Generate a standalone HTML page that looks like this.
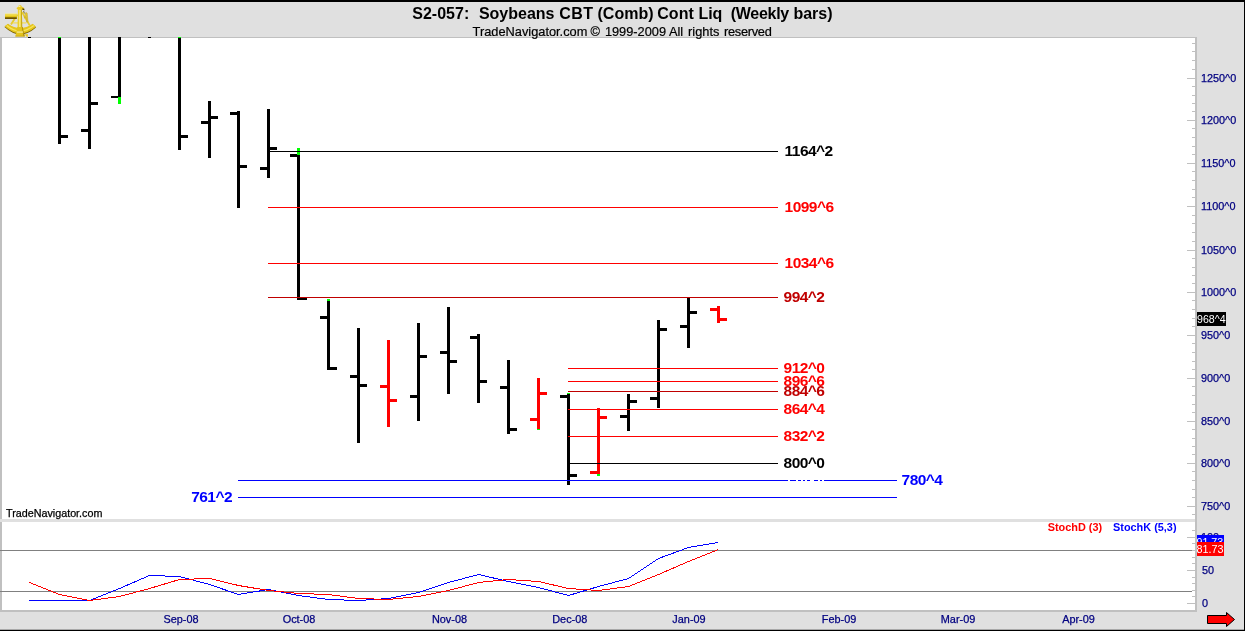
<!DOCTYPE html>
<html><head><meta charset="utf-8"><title>S2-057: Soybeans CBT (Comb) Cont Liq (Weekly bars)</title>
<style>
html,body{margin:0;padding:0;background:#e0e0e0;overflow:hidden}
body{width:1245px;height:631px;position:relative}
svg{position:absolute;left:0;top:0;display:block}
text{font-family:"Liberation Sans",Arial,Helvetica,sans-serif}
.lab{font-weight:bold;font-size:15.5px;letter-spacing:-0.55px}
.thin{stroke:#fff;stroke-width:0.65px}
.ax{font-size:10.85px;fill:#000080;stroke:#000080;stroke-width:0.25px}
.mon{font-size:10.9px;fill:#000080;stroke:#000080;stroke-width:0.25px}
.title{font-weight:bold;font-size:16px;fill:#000}
.sub{font-size:12.8px;fill:#000;stroke:#000;stroke-width:0.2px}
.leg{font-weight:bold;font-size:10.9px}
</style></head><body>
<svg width="1245" height="631" viewBox="0 0 1245 631" shape-rendering="crispEdges">
<rect x="0" y="0" width="1245" height="631" fill="#e0e0e0"/>
<!-- chart panes -->
<rect x="0" y="37" width="1197" height="575" fill="#c0c0c0"/>
<rect x="2" y="38" width="1193" height="481" fill="#fff"/>
<rect x="0" y="519" width="1195" height="3" fill="#e0e0e0"/>
<rect x="2" y="522" width="1193" height="88" fill="#fff"/>
<g id="bars"><rect x="28" y="37" width="3" height="1" fill="#000"/><rect x="148" y="37" width="3" height="1" fill="#000"/><rect x="58" y="37" width="3" height="107" fill="#000"/><rect x="61" y="135" width="7" height="3" fill="#000"/><rect x="58" y="37" width="3" height="1" fill="#0f0"/><rect x="88" y="37" width="3" height="112" fill="#000"/><rect x="81" y="129" width="7" height="3" fill="#000"/><rect x="91" y="102" width="7" height="3" fill="#000"/><rect x="118" y="37" width="3" height="67" fill="#000"/><rect x="111" y="96" width="7" height="2" fill="#000"/><rect x="118" y="97" width="3" height="7" fill="#0f0"/><rect x="178" y="37" width="3" height="113" fill="#000"/><rect x="181" y="135" width="7" height="3" fill="#000"/><rect x="178" y="37" width="3" height="1" fill="#0f0"/><rect x="208" y="101" width="3" height="57" fill="#000"/><rect x="201" y="121" width="7" height="3" fill="#000"/><rect x="211" y="116" width="7" height="3" fill="#000"/><rect x="237" y="111" width="3" height="97" fill="#000"/><rect x="230" y="112" width="7" height="3" fill="#000"/><rect x="240" y="165" width="7" height="3" fill="#000"/><rect x="267" y="109" width="3" height="69" fill="#000"/><rect x="260" y="167" width="7" height="3" fill="#000"/><rect x="270" y="147" width="7" height="3" fill="#000"/><rect x="297" y="148" width="3" height="152" fill="#000"/><rect x="290" y="154" width="7" height="3" fill="#000"/><rect x="300" y="297" width="7" height="3" fill="#000"/><rect x="297" y="148" width="3" height="7" fill="#0f0"/><rect x="327" y="299" width="3" height="71" fill="#000"/><rect x="320" y="316" width="7" height="3" fill="#000"/><rect x="330" y="367" width="7" height="3" fill="#000"/><rect x="327" y="299" width="3" height="2" fill="#0f0"/><rect x="357" y="328" width="3" height="115" fill="#000"/><rect x="350" y="375" width="7" height="3" fill="#000"/><rect x="360" y="384" width="7" height="3" fill="#000"/><rect x="387" y="340" width="3" height="87" fill="#f00"/><rect x="380" y="385" width="7" height="3" fill="#f00"/><rect x="390" y="399" width="7" height="3" fill="#f00"/><rect x="417" y="323" width="3" height="98" fill="#000"/><rect x="410" y="395" width="7" height="3" fill="#000"/><rect x="420" y="355" width="7" height="3" fill="#000"/><rect x="447" y="307" width="3" height="87" fill="#000"/><rect x="440" y="351" width="7" height="3" fill="#000"/><rect x="450" y="360" width="7" height="3" fill="#000"/><rect x="477" y="334" width="3" height="69" fill="#000"/><rect x="470" y="336" width="7" height="3" fill="#000"/><rect x="480" y="380" width="7" height="3" fill="#000"/><rect x="507" y="360" width="3" height="74" fill="#000"/><rect x="500" y="386" width="7" height="3" fill="#000"/><rect x="510" y="428" width="7" height="3" fill="#000"/><rect x="537" y="378" width="3" height="52" fill="#f00"/><rect x="530" y="418" width="7" height="3" fill="#f00"/><rect x="540" y="392" width="7" height="3" fill="#f00"/><rect x="537" y="429" width="3" height="1" fill="#0f0"/><rect x="567" y="393" width="3" height="92" fill="#000"/><rect x="560" y="395" width="7" height="3" fill="#000"/><rect x="570" y="474" width="7" height="3" fill="#000"/><rect x="567" y="393" width="3" height="1" fill="#0f0"/><rect x="597" y="408" width="3" height="67" fill="#f00"/><rect x="590" y="471" width="7" height="3" fill="#f00"/><rect x="600" y="416" width="7" height="3" fill="#f00"/><rect x="597" y="474" width="3" height="2" fill="#0f0"/><rect x="627" y="394" width="3" height="37" fill="#000"/><rect x="620" y="415" width="7" height="3" fill="#000"/><rect x="630" y="400" width="7" height="3" fill="#000"/><rect x="657" y="320" width="3" height="88" fill="#000"/><rect x="650" y="397" width="7" height="3" fill="#000"/><rect x="660" y="328" width="7" height="3" fill="#000"/><rect x="687" y="297" width="3" height="51" fill="#000"/><rect x="680" y="325" width="7" height="3" fill="#000"/><rect x="690" y="311" width="7" height="3" fill="#000"/><rect x="717" y="306" width="3" height="17" fill="#f00"/><rect x="710" y="308" width="7" height="3" fill="#f00"/><rect x="720" y="318" width="7" height="3" fill="#f00"/></g>
<g id="lines"><rect x="269" y="151" width="509" height="1" fill="#000"/><rect x="268" y="207" width="510" height="1" fill="#f00"/><rect x="268" y="263" width="510" height="1" fill="#f00"/><rect x="268" y="297" width="510" height="1" fill="#c00000"/><rect x="568" y="368" width="210" height="1" fill="#f00"/><rect x="568" y="381" width="210" height="1" fill="#f00"/><rect x="568" y="391" width="210" height="1" fill="#c00000"/><rect x="568" y="409" width="210" height="1" fill="#f00"/><rect x="568" y="436" width="210" height="1" fill="#f00"/><rect x="568" y="463" width="210" height="1" fill="#000"/><rect x="238" y="480" width="659" height="1" fill="#00f"/><rect x="238" y="497" width="659" height="1" fill="#00f"/><rect x="788" y="480" width="2" height="1" fill="#fff"/><rect x="796" y="480" width="2" height="1" fill="#fff"/><rect x="801" y="480" width="2" height="1" fill="#fff"/><rect x="805" y="480" width="2" height="1" fill="#fff"/><rect x="810" y="480" width="4" height="1" fill="#fff"/><rect x="818" y="480" width="2" height="1" fill="#fff"/><rect x="822" y="480" width="2" height="1" fill="#fff"/></g>
<g id="stoch"><rect x="0" y="550" width="1192" height="1" fill="#808080"/><rect x="0" y="591" width="1192" height="1" fill="#808080"/><polyline points="28.5,600.5 59.5,600.5 89.5,600.5 119.5,588.5 149.5,575.5 179.5,576.5 209.5,584.5 238.5,594.5 268.5,589.5 298.5,595.5 328.5,599.5 358.5,600.5 388.5,598.5 418.5,592.5 448.5,582.5 478.5,574.5 508.5,581.5 538.5,587.5 568.5,595.5 598.5,586.5 628.5,578.5 658.5,558.5 688.5,547.5 718.5,542.5" fill="none" stroke="#00f" stroke-width="1" shape-rendering="crispEdges"/><polyline points="29.5,582.5 59.5,594.5 89.5,600.5 119.5,596.5 149.5,588.5 179.5,579.5 209.5,578.5 238.5,585.5 268.5,590.5 298.5,593.5 328.5,594.5 358.5,598.5 388.5,599.5 418.5,596.5 448.5,590.5 478.5,582.5 508.5,579.5 538.5,581.5 568.5,588.5 598.5,590.5 628.5,586.5 658.5,574.5 688.5,561.5 718.5,549.5" fill="none" stroke="#f00" stroke-width="1" shape-rendering="crispEdges"/></g>
<g id="axis"><rect x="1195" y="38" width="2" height="573" fill="#c0c0c0"/><rect x="1192" y="43" width="3" height="1" fill="#c0c0c0"/><rect x="1192" y="51" width="3" height="1" fill="#c0c0c0"/><rect x="1192" y="60" width="3" height="1" fill="#c0c0c0"/><rect x="1192" y="69" width="3" height="1" fill="#c0c0c0"/><rect x="1187" y="78" width="8" height="1" fill="#c0c0c0"/><text x="1201" y="82" class="ax">1250^0</text><rect x="1192" y="86" width="3" height="1" fill="#c0c0c0"/><rect x="1192" y="95" width="3" height="1" fill="#c0c0c0"/><rect x="1192" y="103" width="3" height="1" fill="#c0c0c0"/><rect x="1192" y="111" width="3" height="1" fill="#c0c0c0"/><rect x="1187" y="120" width="8" height="1" fill="#c0c0c0"/><text x="1201" y="124" class="ax">1200^0</text><rect x="1192" y="128" width="3" height="1" fill="#c0c0c0"/><rect x="1192" y="137" width="3" height="1" fill="#c0c0c0"/><rect x="1192" y="146" width="3" height="1" fill="#c0c0c0"/><rect x="1192" y="154" width="3" height="1" fill="#c0c0c0"/><rect x="1187" y="163" width="8" height="1" fill="#c0c0c0"/><text x="1201" y="167" class="ax">1150^0</text><rect x="1192" y="171" width="3" height="1" fill="#c0c0c0"/><rect x="1192" y="180" width="3" height="1" fill="#c0c0c0"/><rect x="1192" y="189" width="3" height="1" fill="#c0c0c0"/><rect x="1192" y="197" width="3" height="1" fill="#c0c0c0"/><rect x="1187" y="206" width="8" height="1" fill="#c0c0c0"/><text x="1201" y="210" class="ax">1100^0</text><rect x="1192" y="215" width="3" height="1" fill="#c0c0c0"/><rect x="1192" y="223" width="3" height="1" fill="#c0c0c0"/><rect x="1192" y="232" width="3" height="1" fill="#c0c0c0"/><rect x="1192" y="241" width="3" height="1" fill="#c0c0c0"/><rect x="1187" y="250" width="8" height="1" fill="#c0c0c0"/><text x="1201" y="254" class="ax">1050^0</text><rect x="1192" y="258" width="3" height="1" fill="#c0c0c0"/><rect x="1192" y="267" width="3" height="1" fill="#c0c0c0"/><rect x="1192" y="275" width="3" height="1" fill="#c0c0c0"/><rect x="1192" y="283" width="3" height="1" fill="#c0c0c0"/><rect x="1187" y="292" width="8" height="1" fill="#c0c0c0"/><text x="1201" y="296" class="ax">1000^0</text><rect x="1192" y="300" width="3" height="1" fill="#c0c0c0"/><rect x="1192" y="309" width="3" height="1" fill="#c0c0c0"/><rect x="1192" y="318" width="3" height="1" fill="#c0c0c0"/><rect x="1192" y="326" width="3" height="1" fill="#c0c0c0"/><rect x="1187" y="335" width="8" height="1" fill="#c0c0c0"/><text x="1201" y="339" class="ax">950^0</text><rect x="1192" y="343" width="3" height="1" fill="#c0c0c0"/><rect x="1192" y="352" width="3" height="1" fill="#c0c0c0"/><rect x="1192" y="361" width="3" height="1" fill="#c0c0c0"/><rect x="1192" y="369" width="3" height="1" fill="#c0c0c0"/><rect x="1187" y="378" width="8" height="1" fill="#c0c0c0"/><text x="1201" y="382" class="ax">900^0</text><rect x="1192" y="386" width="3" height="1" fill="#c0c0c0"/><rect x="1192" y="395" width="3" height="1" fill="#c0c0c0"/><rect x="1192" y="404" width="3" height="1" fill="#c0c0c0"/><rect x="1192" y="412" width="3" height="1" fill="#c0c0c0"/><rect x="1187" y="421" width="8" height="1" fill="#c0c0c0"/><text x="1201" y="425" class="ax">850^0</text><rect x="1192" y="429" width="3" height="1" fill="#c0c0c0"/><rect x="1192" y="438" width="3" height="1" fill="#c0c0c0"/><rect x="1192" y="446" width="3" height="1" fill="#c0c0c0"/><rect x="1192" y="454" width="3" height="1" fill="#c0c0c0"/><rect x="1187" y="463" width="8" height="1" fill="#c0c0c0"/><text x="1201" y="467" class="ax">800^0</text><rect x="1192" y="471" width="3" height="1" fill="#c0c0c0"/><rect x="1192" y="480" width="3" height="1" fill="#c0c0c0"/><rect x="1192" y="489" width="3" height="1" fill="#c0c0c0"/><rect x="1192" y="497" width="3" height="1" fill="#c0c0c0"/><rect x="1187" y="506" width="8" height="1" fill="#c0c0c0"/><text x="1201" y="510" class="ax">750^0</text><rect x="1192" y="514" width="3" height="1" fill="#c0c0c0"/><rect x="1187" y="603" width="8" height="1" fill="#c0c0c0"/><rect x="1192" y="596" width="3" height="1" fill="#c0c0c0"/><rect x="1192" y="590" width="3" height="1" fill="#c0c0c0"/><rect x="1192" y="583" width="3" height="1" fill="#c0c0c0"/><rect x="1192" y="577" width="3" height="1" fill="#c0c0c0"/><rect x="1187" y="570" width="8" height="1" fill="#c0c0c0"/><rect x="1192" y="563" width="3" height="1" fill="#c0c0c0"/><rect x="1192" y="557" width="3" height="1" fill="#c0c0c0"/><rect x="1192" y="550" width="3" height="1" fill="#c0c0c0"/><rect x="1192" y="543" width="3" height="1" fill="#c0c0c0"/><rect x="1187" y="537" width="8" height="1" fill="#c0c0c0"/><rect x="1192" y="530" width="3" height="1" fill="#c0c0c0"/><text x="1201" y="541" class="ax">100</text><text x="1202" y="574" class="ax">50</text><text x="1202" y="607" class="ax">0</text></g>
<g id="labels" shape-rendering="auto"><text x="784.6" y="156" fill="#000" class="lab">1164^2</text><text x="784.6" y="212" fill="#f00" class="lab">1099^6</text><text x="784.6" y="268" fill="#f00" class="lab">1034^6</text><text x="783.6" y="302" fill="#c00000" class="lab">994^2</text><text x="783.6" y="373" fill="#f00" class="lab">912^0</text><text x="783.6" y="386" fill="#f00" class="lab">896^6</text><text x="783.6" y="396" fill="#c00000" class="lab">884^6</text><text x="783.6" y="414" fill="#f00" class="lab">864^4</text><text x="783.6" y="441" fill="#f00" class="lab">832^2</text><text x="783.6" y="467.6" fill="#000" class="lab" class="thin">800^0</text><text x="901.6" y="485" fill="#00f" class="lab">780^4</text><text x="191.2" y="502" fill="#00f" class="lab">761^2</text></g>
<g id="months"><text x="181" y="623" class="mon" text-anchor="middle">Sep-08</text><text x="299" y="623" class="mon" text-anchor="middle">Oct-08</text><text x="449.5" y="623" class="mon" text-anchor="middle">Nov-08</text><text x="569.8" y="623" class="mon" text-anchor="middle">Dec-08</text><text x="689" y="623" class="mon" text-anchor="middle">Jan-09</text><text x="839" y="623" class="mon" text-anchor="middle">Feb-09</text><text x="958" y="623" class="mon" text-anchor="middle">Mar-09</text><text x="1078.5" y="623" class="mon" text-anchor="middle">Apr-09</text></g>
<!-- price box -->
<rect x="1197" y="312" width="29" height="14" fill="#000"/>
<text x="1197" y="323" style="font-size:10.6px;fill:#fff">968^4</text>
<rect x="1197" y="535" width="27" height="8" fill="#00f"/>
<svg x="1197" y="535" width="27" height="7" overflow="hidden"><text x="-0.5" y="11" style="font-size:10.7px;fill:#fff">91.73</text></svg>
<rect x="1197" y="542" width="27" height="14" fill="#f00"/>
<svg x="1197" y="542" width="27" height="14" overflow="hidden"><text x="-0.5" y="10.6" style="font-size:10.8px;fill:#fff">81.73</text></svg>
<text x="1047.7" y="531" class="leg" fill="#f00">StochD (3)</text>
<text x="1113" y="531" class="leg" fill="#00f">StochK (5,3)</text>
<text x="6" y="517" style="font-size:10.75px;fill:#000;stroke:#000;stroke-width:0.25px">TradeNavigator.com</text>
<text y="18.5" class="title"><tspan x="412.3">S2-057: </tspan><tspan x="478.9">Soybeans </tspan><tspan x="559.3" style="letter-spacing:0.4px">CBT </tspan><tspan x="597.5">(Comb) </tspan><tspan x="657.3">Cont </tspan><tspan x="698.4">Liq </tspan><tspan x="730.7" style="letter-spacing:-0.27px">(Weekly </tspan><tspan x="793.4">bars)</tspan></text>
<text y="35.5" class="sub"><tspan x="472.6">TradeNavigator.com </tspan><tspan x="590.6">© </tspan><tspan x="604.9">1999-2009 </tspan><tspan x="668.95">All </tspan><tspan x="688.1">rights </tspan><tspan x="724.1" style="letter-spacing:-0.3px">reserved</tspan></text>
<!-- arrow -->
<path d="M1207.5 615.5 H1226.5 V612.5 L1234.5 619.5 L1226.5 626.5 V623.5 H1207.5 Z" fill="#f00" stroke="#000" stroke-width="1" shape-rendering="auto"/>
<g shape-rendering="auto"><g id="sextant">
<path d="M4.5 26.9 Q20 41.4 36 27.4 L32.7 24.2 Q20 33.2 8 24.2 Z" fill="#7a6000"/>
<path d="M4.5 26.2 Q20 40.2 36 26.7 L32.7 23.7 Q20 32.4 8 23.7 Z" fill="#e6c61c"/>
<path d="M6.8 25.4 Q20 36.6 33.9 25.6" fill="none" stroke="#f7e45c" stroke-width="1.3"/>
<path d="M17.4 14.6 L11 24.6 M22.2 12.2 L29.8 25.6" stroke="#e8cc30" stroke-width="1.9" fill="none"/>
<path d="M13 22.9 H26.3" stroke="#f0dc60" stroke-width="1.3" fill="none"/>
<rect x="5" y="13.6" width="11.8" height="5.4" fill="#e2c21a"/>
<rect x="5" y="13.3" width="11.8" height="1.2" fill="#f4eeb8"/>
<rect x="5" y="14.5" width="11.8" height="1.4" fill="#f2da3c"/>
<rect x="5" y="17.3" width="11.8" height="1.7" fill="#6a5200"/>
<path d="M25.2 13 Q26.4 11.8 27.2 13.2 L28 21.8 L26.6 22.2 L26.2 17.4 L24.6 18.2 L24.2 16.8 L25.8 16 Z" fill="#e6c828" stroke="#b09420" stroke-width="0.4"/>
<path d="M23.6 11 L24.4 13.4" stroke="#6a5610" stroke-width="0.8" fill="none"/>
<path d="M17.9 9 L21.9 9 L22.2 28.5 L17.5 28.5 Z" fill="#ecd02a"/>
<path d="M19.2 9 L20.4 9 L20.6 28.5 L19 28.5 Z" fill="#f8ea80"/>
<path d="M21.2 9 L21.9 9 L22.2 28.5 L21.4 28.5 Z" fill="#b89a14"/>
<path d="M16.5 8.6 Q16.6 7.2 18.2 7 Q18.4 5 19.9 4.9 Q21.6 5 21.8 6.8 Q24 7.2 24.3 8.8 Q22 10.2 20.2 9.8 Q18 10.2 16.5 8.6 Z" fill="#e8c820"/>
<path d="M22.2 8.6 Q23.6 8.4 24.3 8.8 L24.5 10.4 Q23.2 10.4 22.2 9.6 Z" fill="#4a3a00"/>
<ellipse cx="19.5" cy="6.3" rx="1.2" ry="0.8" fill="#fbf0a0"/>
<path d="M17.4 27 L22.6 27 L24.7 36.3 L15.4 36.3 Z" fill="#e4c41c"/>
<path d="M21.8 27 L22.6 27 L24.7 36.3 L23.3 36.3 Z" fill="#b08f10"/>
<rect x="16.8" y="31.4" width="6.2" height="1.4" fill="#f2e48a"/>
<path d="M15.4 35.6 H24.7 V36.6 H15.4 Z" fill="#caa914"/>
<path d="M24.8 34.6 L27.8 34 L27.9 36.8 L26.6 36.8 Z" fill="#e6c61c"/>
</g></g>
<!-- borders -->
<rect x="0" y="0" width="1245" height="2" fill="#000"/>
<rect x="0" y="629" width="1245" height="1" fill="#000" fill-opacity="0.25"/><rect x="0" y="630" width="1245" height="1" fill="#000"/>
<rect x="1244" y="0" width="1" height="631" fill="#000"/>
</svg>
</body></html>
